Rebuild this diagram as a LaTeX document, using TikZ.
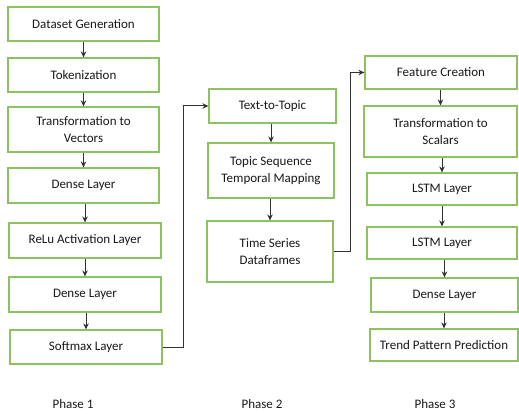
\documentclass[tikz,border=0pt]{standalone}
\usepackage{fontspec}
\setmainfont{Carlito}
\usetikzlibrary{arrows.meta}
\definecolor{boxgreen}{RGB}{140,195,95}
\definecolor{linegray}{RGB}{50,50,50}
\begin{document}
\begin{tikzpicture}[x=1pt, y=-1pt,
    box/.style={draw=boxgreen, line width=1.2pt, fill=white, inner sep=0pt, align=center,
                font=\fontsize{13}{17}\selectfont, text=black!90},
    arr/.style={draw=linegray, line width=1pt, -{Stealth[length=6pt, width=5.5pt]}},
    phase/.style={font=\fontsize{13}{17}\selectfont, text=black!90}]
    \useasboundingbox (0,0) rectangle (519,414);

    % Nodes (phase 1)
    \node[box, minimum width=151, minimum height=34] (gen) at (83.5,24) {Dataset Generation};
    \node[box, minimum width=151, minimum height=34] (tok) at (83.5,75) {Tokenization};
    \node[box, minimum width=151, minimum height=45] (vec) at (83.5,129.5) {Transformation to\\Vectors};
    \node[box, minimum width=151, minimum height=35] (dense1) at (83.5,185.5) {Dense Layer};
    \node[box, minimum width=152, minimum height=35] (relu) at (85,240.5) {ReLu Activation Layer};
    \node[box, minimum width=152, minimum height=35] (dense2) at (85,294.5) {Dense Layer};
    \node[box, minimum width=152, minimum height=34] (soft) at (86,347) {Softmax Layer};

    % Nodes (phase 2)
    \node[box, minimum width=127, minimum height=34] (topic) at (272.5,106) {Text-to-Topic};
    \node[box, minimum width=126, minimum height=55] (seq) at (271,170.5) {Topic Sequence\\Temporal Mapping};
    \node[box, minimum width=126, minimum height=61] (ts) at (270,251.5) {Time Series\\Dataframes};

    % Nodes (phase 3)
    \node[box, minimum width=152, minimum height=33] (feat) at (441,72.5) {Feature Creation};
    \node[box, minimum width=153, minimum height=51] (scal) at (440.5,131.5) {Transformation to\\Scalars};
    \node[box, minimum width=150, minimum height=32] (lstm1) at (442,189) {LSTM Layer};
    \node[box, minimum width=150, minimum height=32] (lstm2) at (442,243) {LSTM Layer};
    \node[box, minimum width=147, minimum height=34] (dense3) at (444.5,295) {Dense Layer};
    \node[box, minimum width=148, minimum height=32] (trend) at (444,345) {Trend Pattern Prediction};

    % Flow inside phases
    \draw[arr] (gen.south -| tok.north) -- (tok.north);
    \draw[arr] (tok.south -| vec.north) -- (vec.north);
    \draw[arr] (vec.south -| dense1.north) -- (dense1.north);
    \draw[arr] (dense1.south -| relu.north) -- (relu.north);
    \draw[arr] (relu.south -| dense2.north) -- (dense2.north);
    \draw[arr] (dense2.south -| soft.north) -- (soft.north);
    \draw[arr] (topic.south -| seq.north) -- (seq.north);
    \draw[arr] (seq.south -| ts.north) -- (ts.north);
    \draw[arr] (feat.south -| scal.north) -- (scal.north);
    \draw[arr] (scal.south -| lstm1.north) -- (lstm1.north);
    \draw[arr] (lstm1.south -| lstm2.north) -- (lstm2.north);
    \draw[arr] (lstm2.south -| dense3.north) -- (dense3.north);
    \draw[arr] (dense3.south -| trend.north) -- (trend.north);

    % Links between phases
    \draw[arr] (soft.east) -- ++(21,0) |- (topic.west);
    \draw[arr] (ts.east) -- ++(17,0) |- (feat.west);

    % Phase labels
    \node[phase] (p1) at (73,404) {Phase 1};
    \node[phase] (p2) at (262,404) {Phase 2};
    \node[phase] (p3) at (435,404) {Phase 3};
\end{tikzpicture}
\end{document}
